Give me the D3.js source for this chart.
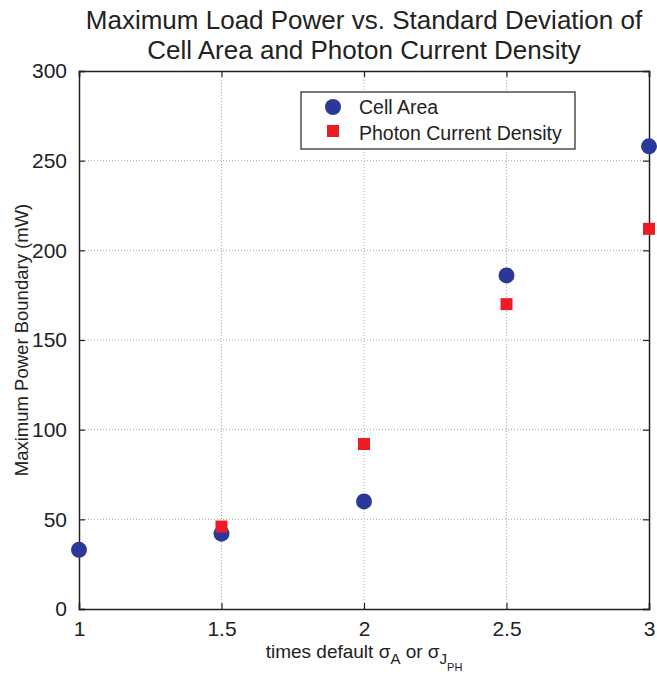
<!DOCTYPE html>
<html>
<head>
<meta charset="utf-8">
<script src="https://cdn.jsdelivr.net/npm/d3@7"></script>
<style>
body { margin: 0; background: #fff; }
text { font-family: "Liberation Sans", Arial, Helvetica, sans-serif; fill: #222; }
</style>
</head>
<body>
<div id="chart"></div>
<script>
// data
var cellX = [1, 1.5, 2, 2.5, 3];
var cellY = [33, 42, 60, 186, 258];
var photonX = [1.5, 2, 2.5, 3];
var photonY = [46, 92, 170, 212];
var xTicks = [1, 1.5, 2, 2.5, 3];
var yTicks = [0, 50, 100, 150, 200, 250, 300];

function init() {
  var w = 657, h = 681;
  var left = 79, right = 649, top = 71, bottom = 609;

  var x = d3.scaleLinear().domain([1, 3]).range([left, right]);
  var y = d3.scaleLinear().domain([0, 300]).range([bottom, top]);

  var svg = d3.select("#chart").append("svg")
    .attr("width", w).attr("height", h);

  // grid
  svg.append("g").selectAll("line").data(xTicks.slice(1, -1)).enter().append("line")
    .attr("x1", d => x(d)).attr("x2", d => x(d))
    .attr("y1", top).attr("y2", bottom)
    .attr("stroke", "#aaa").attr("stroke-width", 1).attr("stroke-dasharray", "1,2");
  svg.append("g").selectAll("line").data(yTicks.slice(1, -1)).enter().append("line")
    .attr("x1", left).attr("x2", right)
    .attr("y1", d => y(d)).attr("y2", d => y(d))
    .attr("stroke", "#aaa").attr("stroke-width", 1).attr("stroke-dasharray", "1,2");

  // axes with inward ticks
  var xAxis = svg.append("g").attr("transform", "translate(0," + bottom + ")")
    .call(d3.axisBottom(x).tickValues(xTicks).tickSize(-6).tickPadding(12).tickFormat(d3.format("")));
  var xTop = svg.append("g").attr("transform", "translate(0," + top + ")")
    .call(d3.axisTop(x).tickValues(xTicks).tickSize(-6).tickFormat(""));
  var yAxis = svg.append("g").attr("transform", "translate(" + left + ",0)")
    .call(d3.axisLeft(y).tickValues(yTicks).tickSize(-6).tickPadding(12));
  var yRight = svg.append("g").attr("transform", "translate(" + right + ",0)")
    .call(d3.axisRight(y).tickValues(yTicks).tickSize(-6).tickFormat(""));

  [xAxis, xTop, yAxis, yRight].forEach(function (g) {
    g.attr("font-size", 21).attr("font-family", "'Liberation Sans', Arial, sans-serif");
    g.select(".domain").attr("stroke", "#222").attr("stroke-width", 1.5);
    g.selectAll(".tick line").attr("stroke", "#222").attr("stroke-width", 1.2);
    g.selectAll("text").attr("fill", "#222");
  });

  // cell area circles
  svg.append("g").selectAll("circle").data(cellX).enter().append("circle")
    .attr("cx", d => x(d))
    .attr("cy", (d, i) => y(cellY[i]))
    .attr("r", 8)
    .attr("fill", "#2B3897");

  // photon current density squares, on top
  var sq = 12;
  svg.append("g").selectAll("rect").data(photonX).enter().append("rect")
    .attr("x", (d, i) => x(d) - sq / 2)
    .attr("y", (d, i) => y(photonY[i]) - sq / 2)
    .attr("width", sq).attr("height", sq)
    .attr("fill", "#ED1C24");

  // title
  var title = svg.append("text").attr("text-anchor", "middle").attr("font-size", 26);
  title.append("tspan").attr("x", (left + right) / 2).attr("y", 29)
    .text("Maximum Load Power vs. Standard Deviation of");
  title.append("tspan").attr("x", (left + right) / 2).attr("y", 59)
    .text("Cell Area and Photon Current Density");

  // y label
  svg.append("text")
    .attr("transform", "translate(28," + (top + bottom) / 2 + ") rotate(-90)")
    .attr("text-anchor", "middle").attr("font-size", 18.5)
    .text("Maximum Power Boundary (mW)");

  // x label with subscripts
  var xl = svg.append("text").attr("x", (left + right) / 2).attr("y", 658)
    .attr("text-anchor", "middle").attr("font-size", 19);
  xl.append("tspan").text("times default \u03C3");
  xl.append("tspan").attr("font-size", 15).attr("dy", 6).text("A");
  xl.append("tspan").attr("dy", -6).text(" or \u03C3");
  xl.append("tspan").attr("font-size", 15).attr("dy", 6).text("J");
  xl.append("tspan").attr("font-size", 11).attr("dy", 7).text("PH");

  // legend
  var lg = svg.append("g").attr("transform", "translate(301,92)");
  lg.append("rect").attr("width", 274).attr("height", 57)
    .attr("fill", "#fff").attr("stroke", "#222").attr("stroke-width", 1.2);
  lg.append("circle").attr("cx", 32).attr("cy", 15).attr("r", 8).attr("fill", "#2B3897");
  lg.append("rect").attr("x", 26).attr("y", 33).attr("width", sq).attr("height", sq).attr("fill", "#ED1C24");
  lg.append("text").attr("x", 58).attr("y", 22).attr("font-size", 19.5).text("Cell Area");
  lg.append("text").attr("x", 58).attr("y", 48).attr("font-size", 19.5).text("Photon Current Density");
}
window.onload = init;
</script>
</body>
</html>
